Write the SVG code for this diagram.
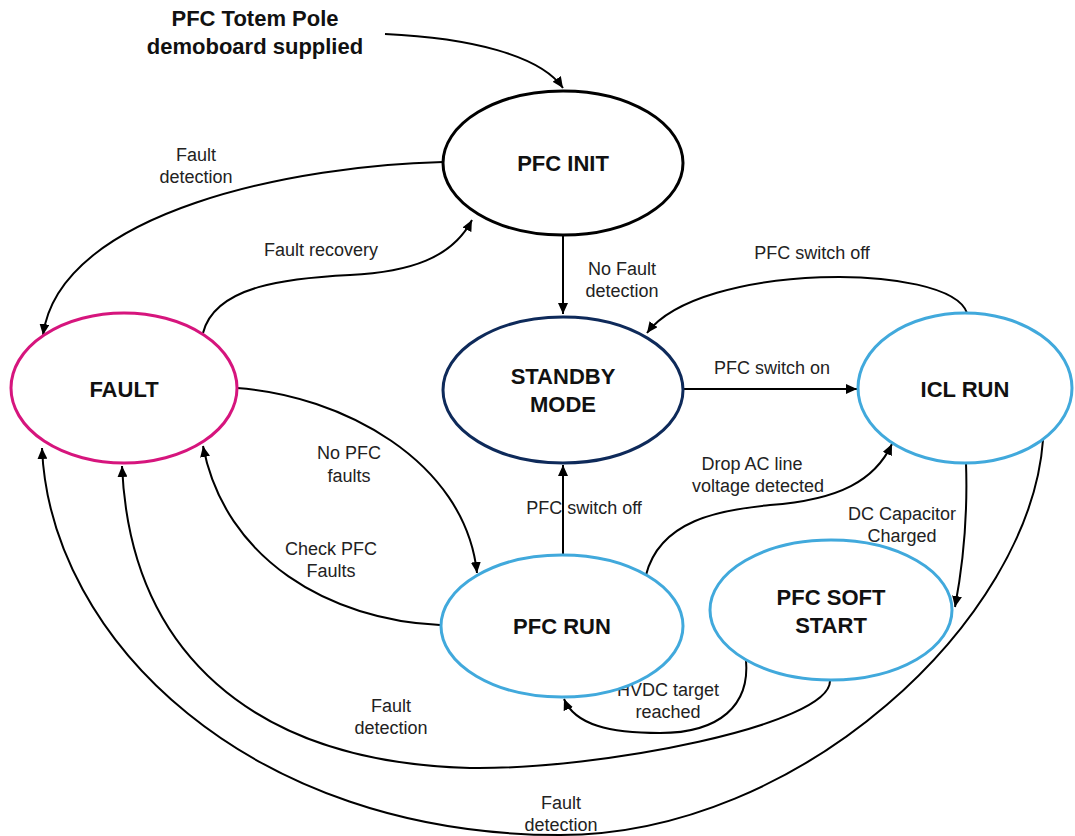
<svg xmlns="http://www.w3.org/2000/svg" width="1075" height="836" viewBox="0 0 1075 836">
<defs>
<marker id="arr" markerUnits="userSpaceOnUse" markerWidth="12" markerHeight="10" refX="11" refY="5" orient="auto">
<path d="M0,0 L11,5 L0,10 z" fill="#000"/>
</marker>
<style>
.node{fill:#fff;stroke-width:3}
.nt{font-family:"Liberation Sans",Arial,sans-serif;font-weight:bold;font-size:22px;fill:#111;text-anchor:middle}
.lb{font-family:"Liberation Sans",Arial,sans-serif;font-size:18px;fill:#222;text-anchor:middle}
.e{fill:none;stroke:#000;stroke-width:2;marker-end:url(#arr)}
</style>
</defs>
<rect width="1075" height="836" fill="#fff"/>
<g id="start-label">
<text class="nt" x="255" y="26">PFC Totem Pole</text>
<text class="nt" x="255" y="54">demoboard supplied</text>
</g>
<g id="connectors">
<path class="e" d="M385,34 C470,38 540,55 563,88"/>
<path class="e" d="M443,162 C300,165 60,210 43,335"/>
<path class="e" d="M203,333 C215,285 290,278 350,275 C410,272 452,258 472,220"/>
<path class="e" d="M563,235 L563,314"/>
<path class="e" d="M967,313 C950,262 700,262 647,333"/>
<path class="e" d="M684,389 L857,389"/>
<path class="e" d="M237,388 C340,395 465,460 477,573"/>
<path class="e" d="M440,625 C330,620 225,560 203,446"/>
<path class="e" d="M563,555 L563,465"/>
<path class="e" d="M646,575 C660,520 720,510 770,505 C840,500 875,480 892,444"/>
<path class="e" d="M966,463 C968,520 962,570 955,607"/>
<path class="e" d="M746,660 C750,705 720,733 660,733 C610,733 575,725 564,699"/>
<path class="e" d="M830,681 C830,725 600,770 470,768 C250,762 130,650 122,466"/>
<path class="e" d="M1043,440 C1030,620 800,835 560,835 C250,835 50,640 42,448"/>
</g>
<g id="edge-labels">
<text class="lb" x="196" y="161">Fault</text>
<text class="lb" x="196" y="183">detection</text>
<text class="lb" x="321" y="256">Fault recovery</text>
<text class="lb" x="622" y="275">No Fault</text>
<text class="lb" x="622" y="297">detection</text>
<text class="lb" x="812" y="259">PFC switch off</text>
<text class="lb" x="772" y="374">PFC switch on</text>
<text class="lb" x="349" y="459">No PFC</text>
<text class="lb" x="349" y="482">faults</text>
<text class="lb" x="331" y="555">Check PFC</text>
<text class="lb" x="331" y="577">Faults</text>
<text class="lb" x="584" y="514">PFC switch off</text>
<text class="lb" x="752" y="470">Drop AC line</text>
<text class="lb" x="758" y="492">voltage detected</text>
<text class="lb" x="902" y="520">DC Capacitor</text>
<text class="lb" x="902" y="542">Charged</text>
<text class="lb" x="668" y="696">HVDC target</text>
<text class="lb" x="668" y="718">reached</text>
<text class="lb" x="391" y="712">Fault</text>
<text class="lb" x="391" y="734">detection</text>
<text class="lb" x="561" y="809">Fault</text>
<text class="lb" x="561" y="831">detection</text>
</g>
<g id="pfc-init">
<ellipse class="node" cx="563" cy="163" rx="120" ry="72" stroke="#000"/>
<text class="nt" x="563" y="171">PFC INIT</text>
</g>
<g id="fault">
<ellipse class="node" cx="124" cy="388" rx="113" ry="75" stroke="#d6157d"/>
<text class="nt" x="124" y="397">FAULT</text>
</g>
<g id="standby">
<ellipse class="node" cx="563" cy="390" rx="120" ry="73" stroke="#0e2a5a"/>
<text class="nt" x="563" y="384">STANDBY</text>
<text class="nt" x="563" y="412">MODE</text>
</g>
<g id="icl-run">
<ellipse class="node" cx="965" cy="388" rx="107" ry="75" stroke="#41a9dc"/>
<text class="nt" x="965" y="397">ICL RUN</text>
</g>
<g id="pfc-run">
<ellipse class="node" cx="562" cy="626" rx="121" ry="71" stroke="#41a9dc"/>
<text class="nt" x="562" y="634">PFC RUN</text>
</g>
<g id="pfc-soft-start">
<ellipse class="node" cx="831" cy="610" rx="121" ry="70" stroke="#41a9dc"/>
<text class="nt" x="831" y="605">PFC SOFT</text>
<text class="nt" x="831" y="633">START</text>
</g>
</svg>
